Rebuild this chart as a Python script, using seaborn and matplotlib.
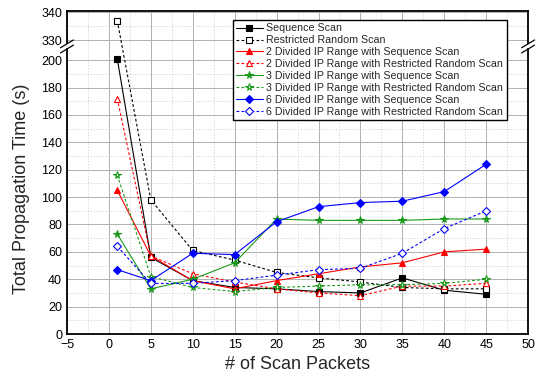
import numpy as np
import pandas as pd
import matplotlib
matplotlib.use('Agg')
import matplotlib.pyplot as plt
from matplotlib.ticker import MultipleLocator, FixedLocator
import seaborn as sns

# scan packets (x) and total propagation time (y) per method
packets = [1, 5, 10, 15, 20, 25, 30, 35, 40, 45]
seq_scan = [201, 56, 39, 34, 33, 31, 30, 41, 32, 29]
rrs_scan = [337, 98, 61, 54, 45, 41, 38, 34, 33, 33]
div2_seq = [105, 57, 39, 33, 39, 44, 49, 52, 60, 62]
div2_rrs = [172, 57, 44, 38, 33, 30, 28, 35, 35, 37]
div3_seq = [73, 33, 40, 52, 84, 83, 83, 83, 84, 84]
div3_rrs = [116, 42, 34, 31, 34, 35, 36, 36, 37, 40]
div6_seq = [47, 39, 59, 58, 82, 93, 96, 97, 104, 124]
div6_rrs = [64, 37, 37, 39, 43, 47, 48, 59, 77, 90]

labels = ['Sequence Scan', 'Restricted Random Scan',
          '2 Divided IP Range with Sequence Scan',
          '2 Divided IP Range with Restricted Random Scan',
          '3 Divided IP Range with Sequence Scan',
          '3 Divided IP Range with Restricted Random Scan',
          '6 Divided IP Range with Sequence Scan',
          '6 Divided IP Range with Restricted Random Scan']
series = [seq_scan, rrs_scan, div2_seq, div2_rrs, div3_seq, div3_rrs, div6_seq, div6_rrs]
colors = ['black', 'black', 'red', 'red', '#1a9a1a', '#1a9a1a', 'blue', 'blue']
markers = ['s', 's', '^', '^', '*', '*', 'D', 'D']
filled = [True, False] * 4

# broken y axis: 0-210 linear, 210-329 squeezed, 329+ stretched
B_LO, B_HI, EPS, K = 210.0, 329.0, 0.02, 2.07


def fwd(y):
    y = np.asarray(y, dtype=float)
    mid = B_LO + (y - B_LO) * EPS
    top = B_LO + (B_HI - B_LO) * EPS + (y - B_HI) * K
    return np.where(y <= B_LO, y, np.where(y <= B_HI, mid, top))


def inv(v):
    v = np.asarray(v, dtype=float)
    v_hi = B_LO + (B_HI - B_LO) * EPS
    mid = B_LO + (v - B_LO) / EPS
    top = B_HI + (v - v_hi) / K
    return np.where(v <= B_LO, v, np.where(v <= v_hi, mid, top))


sns.set_style('white')
plt.rcParams['font.family'] = ['Liberation Sans', 'DejaVu Sans']

fig, ax = plt.subplots(figsize=(5.4, 3.8), dpi=100)
fig.subplots_adjust(left=0.124, right=0.978, bottom=0.121, top=0.972)

for i, (vals, lab) in enumerate(zip(series, labels)):
    df = pd.DataFrame({'x': packets, 'y': vals})
    ms = {'s': 4, '^': 4.5, '*': 5.5, 'D': 4}[markers[i]]
    sns.lineplot(data=df, x='x', y='y', ax=ax, color=colors[i],
                 linewidth=0.8, linestyle='-' if filled[i] else (0, (2.5, 2)),
                 marker=markers[i], markersize=ms,
                 markerfacecolor=colors[i] if filled[i] else 'white',
                 markeredgecolor=colors[i], markeredgewidth=0.8,
                 label=lab, legend=False)

ax.set_yscale('function', functions=(fwd, inv))
ax.set_xlim(-5, 50)
ax.set_ylim(0, 340.5)
ax.xaxis.set_major_locator(MultipleLocator(5))
ax.xaxis.set_minor_locator(MultipleLocator(2.5))
ax.yaxis.set_major_locator(FixedLocator(list(range(0, 201, 20)) + [330, 340]))
ax.yaxis.set_minor_locator(FixedLocator(list(range(10, 200, 20)) + [335]))
ax.grid(which='major', color='#b0b0b0', linewidth=0.7)
ax.grid(which='minor', color='#d0d0d0', linewidth=0.6, linestyle=(0, (1.5, 2)))
ax.tick_params(which='both', direction='in', labelsize=9, colors='black')
ax.tick_params(which='major', length=4, width=1)
ax.tick_params(which='minor', length=2.5, width=0.8)
for s in ax.spines.values():
    s.set_linewidth(1.3)
    s.set_color('black')
ax.set_xlabel('# of Scan Packets', fontsize=13)
ax.set_ylabel('Total Propagation Time (s)', fontsize=13)
ax.yaxis.set_label_coords(-0.08, 0.45)

# break marks on both spines
yb = float((fwd(B_LO + 2) - fwd(0)) / (fwd(340.5) - fwd(0)))
for xa in (0, 1):
    ax.plot([xa - 0.012, xa + 0.012], [yb, yb], transform=ax.transAxes,
            color='white', linewidth=3, clip_on=False, zorder=5)
    for dy in (-0.008, 0.008):
        ax.plot([xa - 0.014, xa + 0.014], [yb + dy - 0.012, yb + dy + 0.012],
                transform=ax.transAxes, color='black', linewidth=0.9,
                clip_on=False, zorder=6)

ax.legend(loc='upper left', bbox_to_anchor=(0.431, 0.947),
          bbox_transform=fig.transFigure, fontsize=7.7,
          frameon=True, fancybox=False, edgecolor='black', framealpha=1,
          borderpad=0.3, labelspacing=0.18, handlelength=2.5,
          handletextpad=0.35, borderaxespad=0)

fig.savefig('out.png', dpi=100)
